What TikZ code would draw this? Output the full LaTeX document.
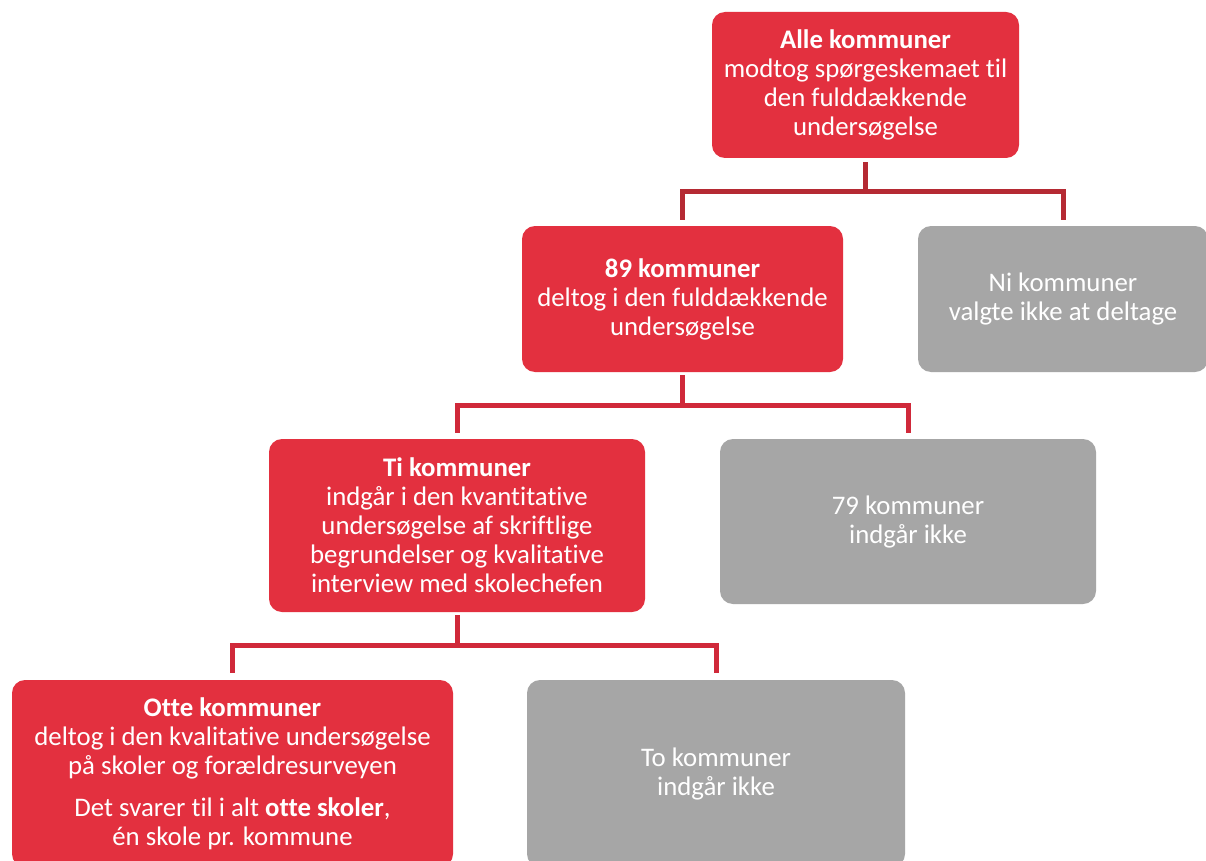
\documentclass[tikz,border=0pt]{standalone}
\usepackage{fontspec}
\setmainfont{Carlito}[Ligatures={NoCommon}]
\definecolor{boxred}{HTML}{E3303F}
\definecolor{boxgray}{HTML}{A6A6A6}
\definecolor{conndark}{HTML}{B52A33}
\definecolor{connred}{HTML}{D0293A}
\tikzset{
  basebox/.style={rounded corners=13pt, text=white, align=center, inner sep=0pt,
    font=\fontsize{26.8}{29}\selectfont},
  redbox/.style={basebox, fill=boxred},
  graybox/.style={basebox, fill=boxgray},
  conn/.style={line width=5pt, draw=connred},
}
\begin{document}
\begin{tikzpicture}[x=1pt,y=-1pt]
\useasboundingbox (0,0) rectangle (1206,861);
\clip (0,0) rectangle (1206,861);
\fill[white] (0,0) rectangle (1206,861);

\node[redbox, minimum width=307pt, minimum height=146pt] (A) at (865.5,85)
  {\textbf{Alle kommuner}\\modtog spørgeskemaet til\\den fulddækkende\\undersøgelse};
\node[redbox, minimum width=321pt, minimum height=146pt] (B) at (682.5,299)
  {\textbf{89 kommuner}\\deltog i den fulddækkende\\undersøgelse};
\node[graybox, minimum width=290pt, minimum height=146pt] (C) at (1063,299)
  {Ni kommuner\\valgte ikke at deltage};
\node[redbox, minimum width=376pt, minimum height=173pt] (D) at (457,525.5)
  {\textbf{Ti kommuner}\\indgår i den kvantitative\\undersøgelse af skriftlige\\begrundelser og kvalitative\\interview med skolechefen};
\node[graybox, minimum width=376pt, minimum height=165pt] (E) at (908,521.5)
  {79 kommuner\\indgår ikke};
\node[redbox, minimum width=441pt, minimum height=187pt] (F) at (232.5,773.5)
  {\textbf{Otte kommuner}\\deltog i den kvalitative undersøgelse\\på skoler og forældresurveyen\\[13pt]Det svarer til i alt \textbf{otte skoler},\\én skole pr. kommune};
\node[graybox, minimum width=378pt, minimum height=187pt] (G) at (716,773.5)
  {To kommuner\\indgår ikke};

\coordinate (j1) at (865.5,191);
\coordinate (j2) at (682.5,405.5);
\coordinate (j3) at (457,645.5);

\draw[conn, draw=conndark] ([yshift=-4pt]A.south) -- (j1);
\draw[conn, draw=conndark] ([yshift=6pt]B.north) |- (j1) -| ([yshift=6pt]C.north);
\draw[conn] ([yshift=-3pt]B.south) -- (j2);
\draw[conn] ([yshift=6pt]D.north) |- (j2) -| ([yshift=6pt]E.north);
\draw[conn] ([yshift=-3pt]D.south) -- (j3);
\draw[conn] ([yshift=7pt]F.north) |- (j3) -| ([yshift=7pt]G.north);
\end{tikzpicture}
\end{document}
